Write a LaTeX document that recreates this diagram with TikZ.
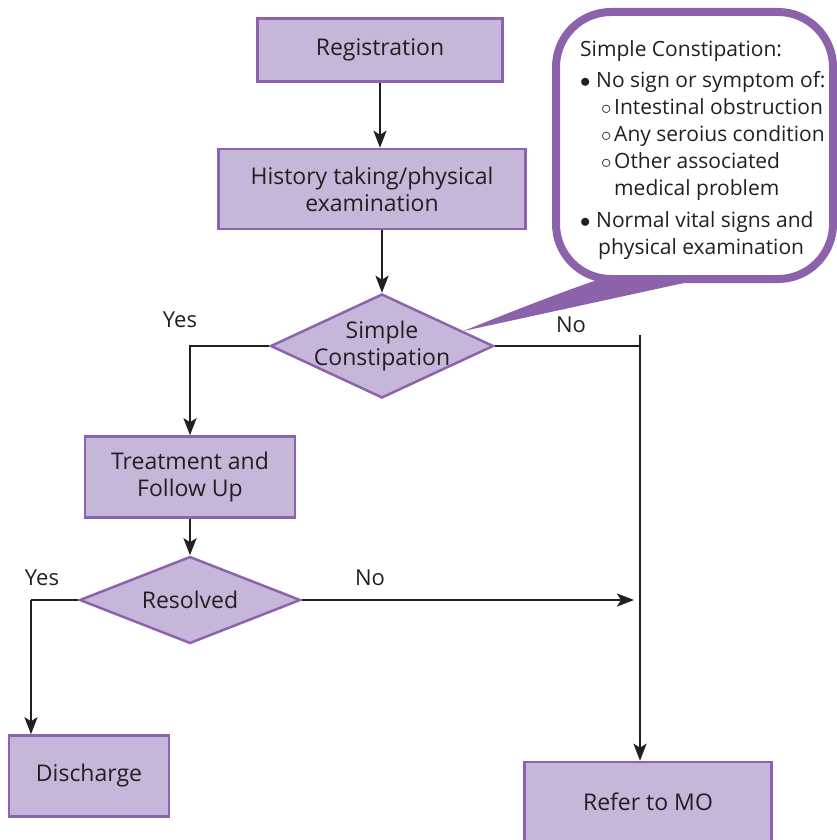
\documentclass[tikz,border=0pt]{standalone}
\usepackage{fontspec}
\setmainfont{Open Sans}
\usetikzlibrary{shapes.geometric,arrows.meta,calc}

\definecolor{boxfill}{RGB}{198,182,218}
\definecolor{boxline}{RGB}{142,99,174}
\definecolor{bubbleline}{RGB}{140,98,170}
\definecolor{ink}{RGB}{35,31,32}

\tikzset{
    flowbox/.style={draw=boxline, fill=boxfill, line width=2.5pt, inner sep=0pt,
        text=ink, font=\fontsize{23}{27}\selectfont, align=center},
    decide/.style={flowbox, diamond, inner sep=-30pt},
    flowline/.style={draw=ink, line width=2.6pt},
    flowarrow/.style={flowline, -{Stealth[length=17pt,width=13pt,inset=4pt]}},
    answer/.style={text=ink, font=\fontsize{22}{27}\selectfont, inner sep=0pt},
    calltext/.style={text=ink, font=\fontsize{21}{27}\selectfont, inner sep=0pt, align=left},
}

\begin{document}
\begin{tikzpicture}[x=1pt, y=-1pt]
    \useasboundingbox (0,0) rectangle (837,840);

    % boxes and decisions
    \node[flowbox, minimum width=245pt, minimum height=63pt] (reg) at (380,50) {Registration};
    \node[flowbox, minimum width=307pt, minimum height=80pt] (hist) at (372,189) {History taking/physical\\examination};
    \node[decide, minimum width=223pt, minimum height=104pt] (simp) at (382,346) {Simple\\Constipation};
    \node[flowbox, minimum width=210pt, minimum height=81pt] (treat) at (190,477) {Treatment and\\Follow Up};
    \node[decide, minimum width=221pt, minimum height=87pt] (resol) at (190,600) {Resolved};
    \node[flowbox, minimum width=160pt, minimum height=81pt] (disch) at (89,776) {Discharge};
    \node[flowbox, minimum width=247pt, minimum height=80pt] (refer) at (648,802) {Refer to MO};

    % answers
    \node[answer] (simpyes) at (180,320) {Yes};
    \node[answer] (simpno) at (571,325) {No};
    \node[answer] (resolyes) at (42,578) {Yes};
    \node[answer] (resolno) at (370,578) {No};

    % connectors
    \coordinate (nojoin) at (640,346);
    \coordinate (nojointop) at (640,335);
    \coordinate (yesdown) at (31,600);
    \coordinate (noend) at (634,600);
    \draw[flowarrow] (reg.south) -- (reg.south |- hist.north);
    \draw[flowarrow] (hist.south -| simp.north) -- (simp.north);
    \draw[flowarrow] (simp.west) -| (treat.north);
    \draw[flowline] (simp.east) -- (nojoin);
    \draw[flowarrow] (nojointop) -- (nojointop |- refer.north);
    \draw[flowarrow] (treat.south) -- (resol.north);
    \draw[flowline] (resol.west) -- (yesdown);
    \draw[flowarrow] (yesdown) -- (yesdown |- disch.north);
    \draw[flowarrow] (resol.east) -- (noend);

    % callout
    \coordinate (tailtip) at ($(simp.north)!0.72!(simp.east)$);
    \fill[bubbleline] (tailtip) .. controls (545,298) and (585,284) .. (603,278) -- (690,278) -- (684,283) -- cycle;
    \draw[bubbleline, line width=8pt, rounded corners=55pt] (556,12) rectangle (833,279);
    \node[calltext, anchor=north west] (crit) at (580,40) {Simple Constipation:\\[4pt]
        \makebox[16pt][l]{$\bullet$}No sign or symptom of:\\
        \hspace*{21pt}\makebox[13pt][l]{$\circ$}Intestinal obstruction\\
        \hspace*{21pt}\makebox[13pt][l]{$\circ$}Any seroius condition\\
        \hspace*{21pt}\makebox[13pt][l]{$\circ$}Other associated\\
        \hspace*{34pt}medical problem\\[5pt]
        \makebox[16pt][l]{$\bullet$}Normal vital signs and\\
        \hspace*{18pt}physical examination};
\end{tikzpicture}
\end{document}
